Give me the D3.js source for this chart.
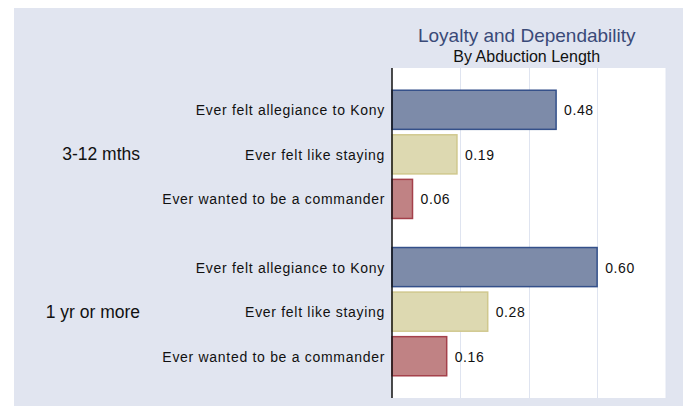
<!DOCTYPE html>
<html>
<head>
<meta charset="utf-8">
<script src="https://cdn.jsdelivr.net/npm/d3@7"></script>
<style>
  html, body { margin: 0; padding: 0; background: #fff; }
  svg { display: block; }
</style>
</head>
<body>
<div id="chart"></div>
<script>
// Loyalty and Dependability - by abduction length
const groups = ['3-12 mths', '1 yr or more'];
const measures = ['Ever felt allegiance to Kony', 'Ever felt like staying', 'Ever wanted to be a commander'];
const values3to12 = [0.48, 0.19, 0.06];
const values1yr = [0.60, 0.28, 0.16];
const xTicks = [0.2, 0.4, 0.6, 0.8];

(function() {
  const width = 689;
  const height = 406;

  const panelBg = '#e1e5f0';
  const fills = ['#7d8ba9', '#ddd9b1', '#c08284'];
  const strokes = ['#34508a', '#d0c88e', '#a4404b'];

  const plot = { left: 392, right: 665.5, top: 68, bottom: 398 };

  const rows = [values3to12, values1yr];

  const svg = d3.select('#chart')
    .append('svg')
    .attr('width', width)
    .attr('height', height);

  // Panel background
  svg.append('rect')
    .attr('x', 14).attr('y', 8)
    .attr('width', 683 - 14).attr('height', height - 8)
    .attr('fill', panelBg);

  // Plot area
  svg.append('rect')
    .attr('x', plot.left).attr('y', plot.top)
    .attr('width', plot.right - plot.left).attr('height', plot.bottom - plot.top)
    .attr('fill', '#fff');

  const x = d3.scaleLinear().domain([0, 0.8]).range([plot.left, plot.right]);

  const y0 = d3.scaleBand()
    .domain(groups)
    .range([plot.top, plot.bottom])
    .paddingInner(0.15)
    .paddingOuter(0.124);

  const y1 = d3.scaleBand()
    .domain(measures)
    .range([0, y0.bandwidth()])
    .paddingInner(0.1)
    .paddingOuter(0.05);

  // Gridlines
  svg.append('g')
    .selectAll('line')
    .data(xTicks)
    .join('line')
    .attr('x1', d => Math.round(x(d)) + 0.5)
    .attr('x2', d => Math.round(x(d)) + 0.5)
    .attr('y1', plot.top)
    .attr('y2', plot.bottom)
    .attr('stroke', '#dfe4f0')
    .attr('stroke-width', 1);

  // Title
  const cx = (plot.left + plot.right) / 2 - 2;
  svg.append('text')
    .attr('x', cx).attr('y', 42)
    .attr('text-anchor', 'middle')
    .attr('font-family', 'Liberation Sans, Arial, sans-serif')
    .attr('font-size', '19px')
    .attr('fill', '#3a4a78')
    .text('Loyalty and Dependability');

  svg.append('text')
    .attr('x', cx).attr('y', 61.5)
    .attr('text-anchor', 'middle')
    .attr('font-family', 'Liberation Sans, Arial, sans-serif')
    .attr('font-size', '16px')
    .attr('fill', '#111')
    .text('By Abduction Length');

  groups.forEach((grp, gi) => {
    const gy = y0(grp);
    const g = svg.append('g').attr('transform', `translate(0,${gy})`);

    // Group label
    svg.append('text')
      .attr('x', 140)
      .attr('y', gy + y0.bandwidth() / 2 + 6)
      .attr('text-anchor', 'end')
      .attr('font-family', 'Liberation Sans, Arial, sans-serif')
      .attr('font-size', '17.5px')
      .attr('fill', '#111')
      .text(grp);

    const vals = rows[gi];

    // Bars
    g.selectAll('rect')
      .data(measures)
      .join('rect')
      .attr('x', x(0))
      .attr('y', d => y1(d) + 0.5)
      .attr('width', (d, i) => x(vals[i]) - x(0))
      .attr('height', y1.bandwidth() - 1)
      .attr('fill', (d, i) => fills[i])
      .attr('stroke', (d, i) => strokes[i])
      .attr('stroke-width', 1.5);

    // Category labels
    g.selectAll('text.cat')
      .data(measures)
      .join('text')
      .attr('class', 'cat')
      .attr('x', plot.left - 7)
      .attr('y', d => y1(d) + y1.bandwidth() / 2 + 5.5)
      .attr('text-anchor', 'end')
      .attr('font-family', 'Liberation Sans, Arial, sans-serif')
      .attr('font-size', '14px')
      .attr('letter-spacing', '0.7px')
      .attr('fill', '#111')
      .text(d => d);

    // Value labels
    g.selectAll('text.val')
      .data(measures)
      .join('text')
      .attr('class', 'val')
      .attr('x', (d, i) => x(vals[i]) + 8)
      .attr('y', d => y1(d) + y1.bandwidth() / 2 + 5.5)
      .attr('font-family', 'Liberation Sans, Arial, sans-serif')
      .attr('font-size', '14px')
      .attr('letter-spacing', '0.6px')
      .attr('fill', '#111')
      .text((d, i) => vals[i].toFixed(2));
  });

  // Axis line
  svg.append('line')
    .attr('x1', plot.left).attr('x2', plot.left)
    .attr('y1', plot.top).attr('y2', plot.bottom)
    .attr('stroke', '#111')
    .attr('stroke-width', 1.5);
})();
</script>
</body>
</html>
